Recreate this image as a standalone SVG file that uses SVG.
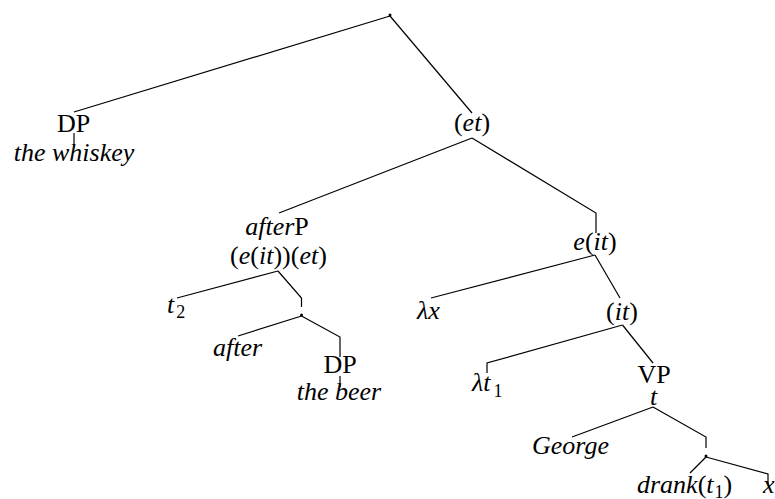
<svg xmlns="http://www.w3.org/2000/svg" width="775" height="499" viewBox="0 0 775 499">
<style>
text { font-family: "Liberation Serif", "Times New Roman", serif; font-size: 26px; fill: #000; }
.c { text-anchor: middle; }
.i { font-style: italic; }
.sub { font-size: 18px; font-style: normal; }
.edge { fill: none; stroke: #000; stroke-width: 1.2; }
.dot { fill: #000; }
</style>
<rect width="775" height="499" fill="#fff"/>
<g id="connectors" class="edge">
<path d="M390,16 L74,112"/>
<path d="M390,16 L472,113"/>
<path d="M74,133 L74,146"/>
<path d="M472,138 L279,213"/>
<path d="M472,138 L596,213 L596,233"/>
<path d="M278,271 L177,298"/>
<path d="M278,271 L301.5,298 L301.5,307"/>
<path d="M301.5,316 L238,336"/>
<path d="M301.5,316 L340,337 L340,357"/>
<path d="M340,376 L340,387"/>
<path d="M595,255 L431,298"/>
<path d="M595,255 L620,298"/>
<path d="M622.5,325 L487,363 L487,373"/>
<path d="M622.5,325 L653,363"/>
<path d="M653,407 L572,437"/>
<path d="M653,407 L706,437 L706,448"/>
<path d="M706,457 L690,473"/>
<path d="M706,457 L768,474 L768,484"/>
</g>
<g id="root"><circle class="dot" cx="390" cy="15" r="1.5"/></g>
<g id="dp-whiskey">
<text class="c" x="73.5" y="132">DP</text>
<text class="c i" x="74" y="161">the whiskey</text>
</g>
<g id="et"><text class="c" x="472" y="131">(<tspan class="i">et</tspan>)</text></g>
<g id="afterP">
<text class="c" x="277" y="235"><tspan class="i">after</tspan>P</text>
<text class="c" x="278.5" y="264">(<tspan class="i">e</tspan>(<tspan class="i">it</tspan>))(<tspan class="i">et</tspan>)</text>
</g>
<g id="eit"><text class="c" x="595" y="250"><tspan class="i">e</tspan>(<tspan class="i">it</tspan>)</text></g>
<g id="t2"><text x="167" y="313"><tspan class="i">t</tspan><tspan class="sub" dx="2" dy="5">2</tspan></text></g>
<g id="after-bar"><circle class="dot" cx="301.5" cy="315" r="1.5"/></g>
<g id="after"><text class="c i" x="237.5" y="356">after</text></g>
<g id="dp-beer">
<text class="c" x="340" y="373">DP</text>
<text class="c i" x="339" y="400">the beer</text>
</g>
<g id="lambda-x"><text class="i" x="417" y="319">λx</text></g>
<g id="it"><text class="c" x="622" y="320">(<tspan class="i">it</tspan>)</text></g>
<g id="lambda-t1"><text x="472" y="391"><tspan class="i">λt</tspan><tspan class="sub" dx="3" dy="6">1</tspan></text></g>
<g id="vp">
<text class="c" x="654" y="383">VP</text>
<text class="c i" x="653.5" y="405">t</text>
</g>
<g id="george"><text class="c i" x="570.5" y="454">George</text></g>
<g id="v-bar"><circle class="dot" cx="706" cy="456" r="1.5"/></g>
<g id="drank"><text x="637" y="493"><tspan class="i">drank</tspan>(<tspan class="i">t</tspan><tspan class="sub" dx="1" dy="5">1</tspan><tspan dy="-5">)</tspan></text></g>
<g id="x"><text class="i" x="763" y="493">x</text></g>
</svg>
